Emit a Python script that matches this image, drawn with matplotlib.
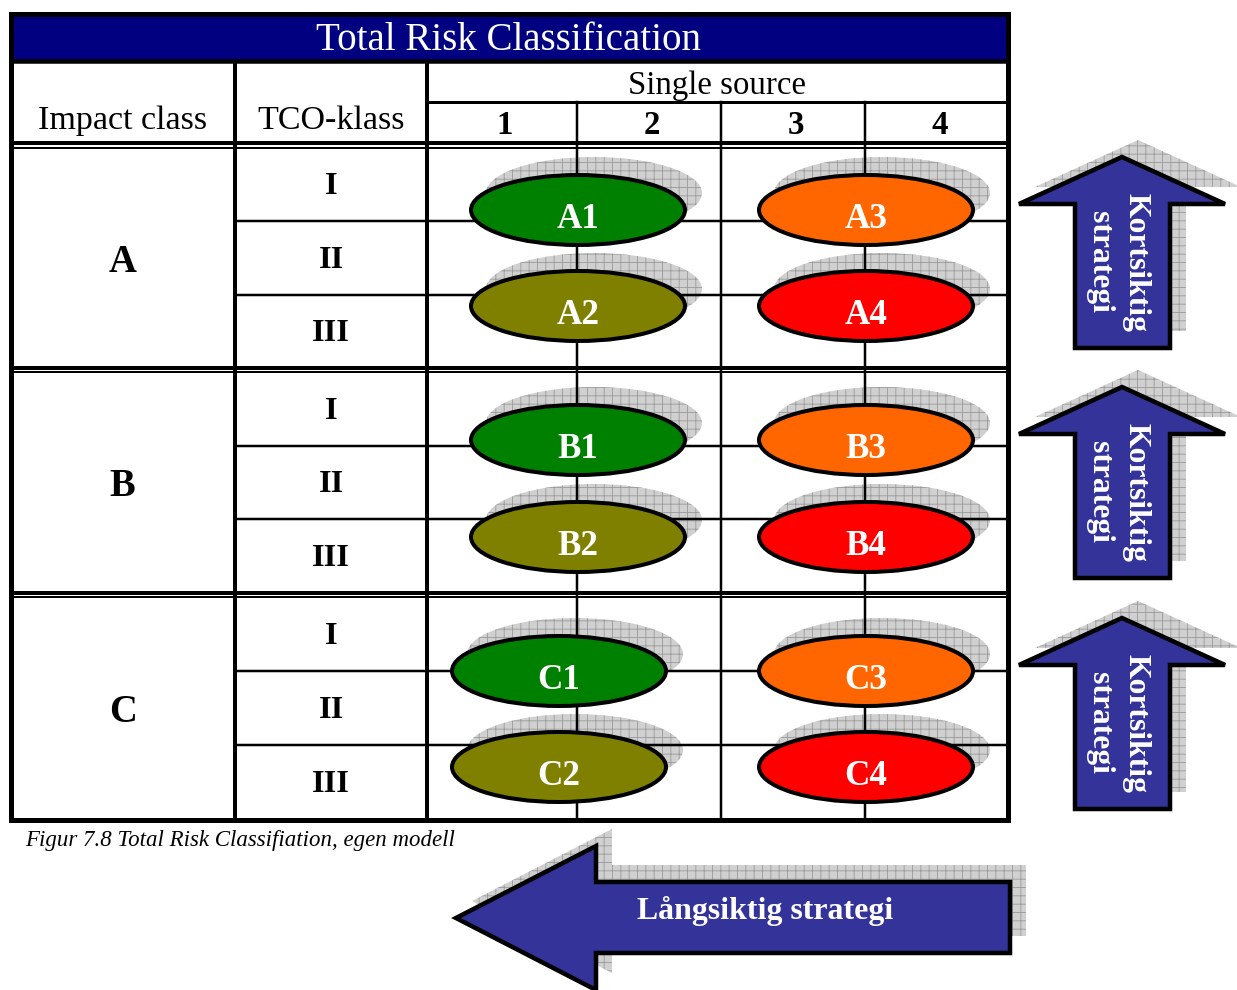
import matplotlib
matplotlib.use('Agg')
import matplotlib.pyplot as plt
from matplotlib.patches import Ellipse, Polygon, Rectangle

# ---------------- data ----------------
title = 'Total Risk Classification'
header_impact = 'Impact class'
header_tco = 'TCO-klass'
header_source = 'Single source'
impact_classes = ['A', 'B', 'C']
tco_classes = ['I', 'II', 'III']
source_levels = ['1', '2', '3', '4']
risk_codes = ['1', '2', '3', '4']
risk_colors = ['#008000', '#808000', '#FF6600', '#FF0000']
short_term_label = ['Kortsiktig', 'strategi']
long_term_label = 'Långsiktig strategi'
caption = 'Figur 7.8 Total Risk Classifiation, egen modell'

# ---------------- layout ----------------
W, H = 1237, 990
plt.rcParams['hatch.linewidth'] = 0.6
fig = plt.figure(figsize=(W / 100, H / 100), dpi=100)
ax = fig.add_axes([0, 0, 1, 1])
ax.set_xlim(0, W)
ax.set_ylim(H, 0)
ax.axis('off')
renderer = fig.canvas.get_renderer()

PX = 0.72  # points per pixel at 100 dpi
SERIF = ['Liberation Serif', 'DejaVu Serif']
NAVY = '#000080'
ARROW = '#333399'
SHADOW_FACE = '#d0d0d0'
SHADOW_HATCH = '#9a9a9a'
SH_DX, SH_DY = 16, -17


def fitted_size(s, target, **kw):
    t = ax.text(0, 0, s, fontsize=20, family=SERIF, **kw)
    bb = t.get_window_extent(renderer=renderer)
    t.remove()
    return 20 * target / bb.width


def line(x0, x1, y0, y1, px, z=3):
    ax.plot([x0, x1], [y0, y1], color='black', lw=px * PX,
            solid_capstyle='projecting', zorder=z)


left, right, top, bottom = 10.5, 1007.5, 14, 819.5
col_x = [left, 235, 427, 577, 721, 865, right]

# title bar
ax.add_patch(Rectangle((left, top), right - left, 61 - top, facecolor=NAVY,
                       edgecolor='none', zorder=1))
ts = fitted_size(title, 385)
ax.text((left + right) / 2 + 0, 50, title, fontsize=ts, family=SERIF,
        color='white', ha='center', va='baseline', zorder=5)
line(left, right, 61, 61, 4.5)

# header
hs = fitted_size(header_impact, 169)
ax.text((left + 235) / 2, 129, header_impact, fontsize=hs, family=SERIF,
        ha='center', va='baseline', zorder=5)
ax.text((235 + 427) / 2, 129, header_tco, fontsize=hs, family=SERIF,
        ha='center', va='baseline', zorder=5)
ss = fitted_size(header_source, 178)
ax.text((427 + right) / 2, 94, header_source, fontsize=ss, family=SERIF,
        ha='center', va='baseline', zorder=5)
line(427, right, 102, 102, 3)
for i, lab in enumerate(source_levels):
    ax.text((col_x[2 + i] + col_x[3 + i]) / 2 + 3, 134, lab, fontsize=ss,
            family=SERIF, weight='bold', ha='center', va='baseline', zorder=5)

# section boundaries (thick line, thin line)
sec_thick = [143, 368, 592.5]
sec_thin = [147.5, 372, 596.5]
sec_bottom = [368, 592.5, bottom]
for yk, yn in zip(sec_thick, sec_thin):
    line(left, right, yk, yk, 4)
    line(left, right, yn, yn, 2)

# vertical lines
for x in (235, 427):
    line(x, x, 61, bottom, 4)
for x in col_x[3:6]:
    line(x, x, 102, bottom, 2.5)

# rows, labels
big = fitted_size('A', 28, weight='bold')
rs = fitted_size('III', 37, weight='bold')
for s, cls in enumerate(impact_classes):
    y0, y1 = sec_thin[s], sec_bottom[s]
    h = (y1 - y0) / 3
    for r in range(1, 3):
        line(235, right, y0 + r * h, y0 + r * h, 2.5)
    ax.text((left + 235) / 2, (y0 + y1) / 2 + 14, cls, fontsize=big,
            family=SERIF, weight='bold', ha='center', va='baseline', zorder=5)
    for r, tco in enumerate(tco_classes):
        ax.text((235 + 427) / 2, y0 + (r + 0.5) * h + 10, tco, fontsize=rs,
                family=SERIF, weight='bold', ha='center', va='baseline',
                zorder=5)

# outer border
ax.add_patch(Rectangle((left, top), right - left, bottom - top,
                       facecolor='none', edgecolor='black', lw=5 * PX,
                       zorder=4))

# risk ellipses
ell_left_x = [578, 578, 559]
ell_right_x = 866
ell_upper_y = [210, 440, 671]
ell_lower_y = [306, 537, 767]
EW, EH = 214, 70
ls = fitted_size('A1', 43, weight='bold')
for s, cls in enumerate(impact_classes):
    spots = [(ell_left_x[s], ell_upper_y[s]), (ell_left_x[s], ell_lower_y[s]),
             (ell_right_x, ell_upper_y[s]), (ell_right_x, ell_lower_y[s])]
    for (cx, cy), code, colr in zip(spots, risk_codes, risk_colors):
        ax.add_patch(Ellipse((cx + SH_DX, cy + SH_DY), EW + 2, EH + 2,
                             facecolor=SHADOW_FACE, edgecolor=SHADOW_HATCH,
                             hatch='++', lw=0, zorder=2))
        ax.add_patch(Ellipse((cx, cy), EW, EH, facecolor=colr,
                             edgecolor='black', lw=4 * PX, zorder=6))
        ax.text(cx, cy + 18, cls + code, fontsize=ls, family=SERIF,
                weight='bold', color='white', ha='center', va='baseline',
                zorder=7)


def arrow(verts, z=8):
    sh = [(x + SH_DX, y + SH_DY) for x, y in verts]
    ax.add_patch(Polygon(sh, closed=True, facecolor=SHADOW_FACE,
                         edgecolor=SHADOW_HATCH, hatch='++', lw=0, zorder=z))
    ax.add_patch(Polygon(verts, closed=True, facecolor=ARROW,
                         edgecolor='black', lw=4.5 * PX, joinstyle='miter',
                         zorder=z + 1))


# short-term (up) arrows
arrow_tips = [154, 384, 615]
ks = fitted_size(short_term_label[0], 139, weight='bold')
for t in arrow_tips:
    v = [(1122, t + 3), (1225, t + 50), (1170, t + 50), (1170, t + 194),
         (1075, t + 194), (1075, t + 50), (1019, t + 50)]
    arrow(v)
    ax.text(1136, t + 108, short_term_label[0], fontsize=ks, family=SERIF,
            weight='bold', color='white', rotation=-90, ha='center',
            va='center', zorder=11)
    ax.text(1099, t + 108, short_term_label[1], fontsize=ks, family=SERIF,
            weight='bold', color='white', rotation=-90, ha='center',
            va='center', zorder=11)

# long-term (left) arrow
v = [(456, 918), (596, 846), (596, 882), (1010, 882), (1010, 953),
     (596, 953), (596, 990)]
arrow(v)
lg = fitted_size(long_term_label, 256, weight='bold')
ax.text(765, 919, long_term_label, fontsize=lg, family=SERIF, weight='bold',
        color='white', ha='center', va='baseline', zorder=11)

# caption
cs = fitted_size(caption, 430, style='italic')
ax.text(25, 846, caption, fontsize=cs, family=SERIF, style='italic',
        ha='left', va='baseline', zorder=5)

fig.savefig('out.png', dpi=100)
